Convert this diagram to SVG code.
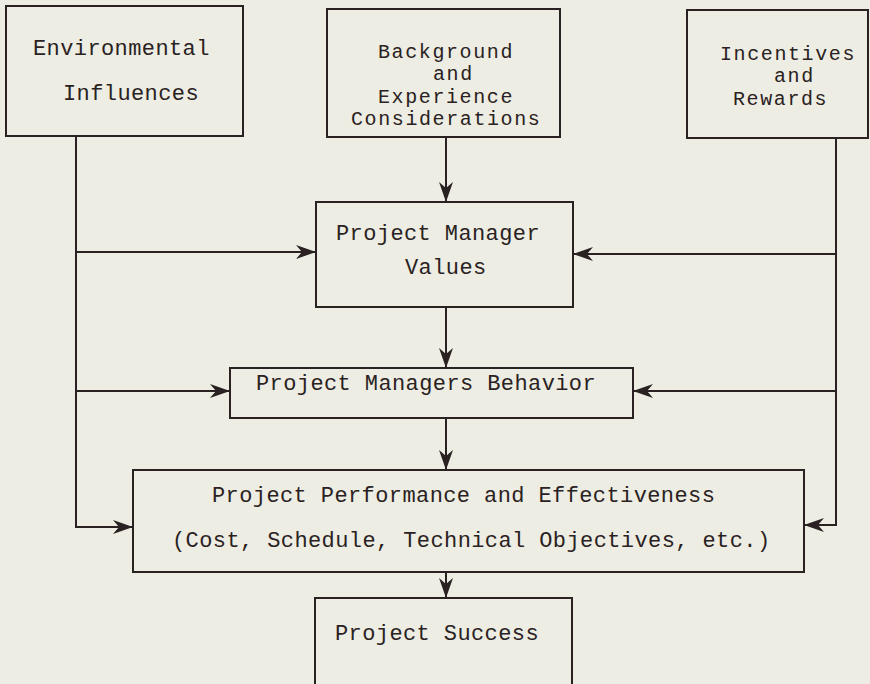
<svg xmlns="http://www.w3.org/2000/svg" width="870" height="684" viewBox="0 0 870 684">
<defs>
<style>
.box{fill:none;stroke:#2a2222;stroke-width:2}
.ln{fill:none;stroke:#2a2222;stroke-width:2}
text{font-family:"Liberation Mono","Courier New",monospace;font-size:22px;letter-spacing:0.4px;fill:#2a2222}
text.s{font-size:20px;letter-spacing:1.6px}
</style>
<marker id="ah" markerUnits="userSpaceOnUse" markerWidth="22" markerHeight="14" refX="20" refY="7" orient="auto">
<path d="M0,0 L20,7 L0,14 L6,7 Z" fill="#2a2222"/>
</marker>
</defs>
<rect width="870" height="684" fill="#ededE3"/>
<g id="env"><rect class="box" x="6" y="6" width="237" height="130"/><text x="33" y="55">Environmental</text><text x="63" y="100">Influences</text></g>
<g id="bg"><rect class="box" x="327" y="9" width="233" height="128"/><text class="s" x="378" y="58">Background</text><text class="s" x="433" y="80">and</text><text class="s" x="378" y="103">Experience</text><text class="s" x="351" y="125">Considerations</text></g>
<g id="inc"><rect class="box" x="687" y="10" width="181" height="128"/><text class="s" x="720" y="60">Incentives</text><text class="s" x="774" y="82">and</text><text class="s" x="733" y="105">Rewards</text></g>
<g id="pmv"><rect class="box" x="316" y="202" width="257" height="105"/><text x="336" y="240">Project Manager</text><text x="405" y="274">Values</text></g>
<g id="pmb"><rect class="box" x="230" y="368" width="403" height="50"/><text x="256" y="390">Project Managers Behavior</text></g>
<g id="ppe"><rect class="box" x="133" y="470" width="671" height="102"/><text x="212" y="502">Project Performance and Effectiveness</text><text x="172" y="547">(Cost, Schedule, Technical Objectives, etc.)</text></g>
<g id="ps"><rect class="box" x="315" y="598" width="257" height="90"/><text x="335" y="640">Project Success</text></g>
<g id="connectors">
<path class="ln" d="M76,136 V527 H133" marker-end="url(#ah)"/>
<path class="ln" d="M76,252 H316" marker-end="url(#ah)"/>
<path class="ln" d="M76,391 H230" marker-end="url(#ah)"/>
<path class="ln" d="M836,138 V525 H804" marker-end="url(#ah)"/>
<path class="ln" d="M836,254 H573" marker-end="url(#ah)"/>
<path class="ln" d="M836,391 H633" marker-end="url(#ah)"/>
<path class="ln" d="M446,137 V202" marker-end="url(#ah)"/>
<path class="ln" d="M446,307 V368" marker-end="url(#ah)"/>
<path class="ln" d="M446,418 V470" marker-end="url(#ah)"/>
<path class="ln" d="M446,572 V598" marker-end="url(#ah)"/>
</g>
</svg>
